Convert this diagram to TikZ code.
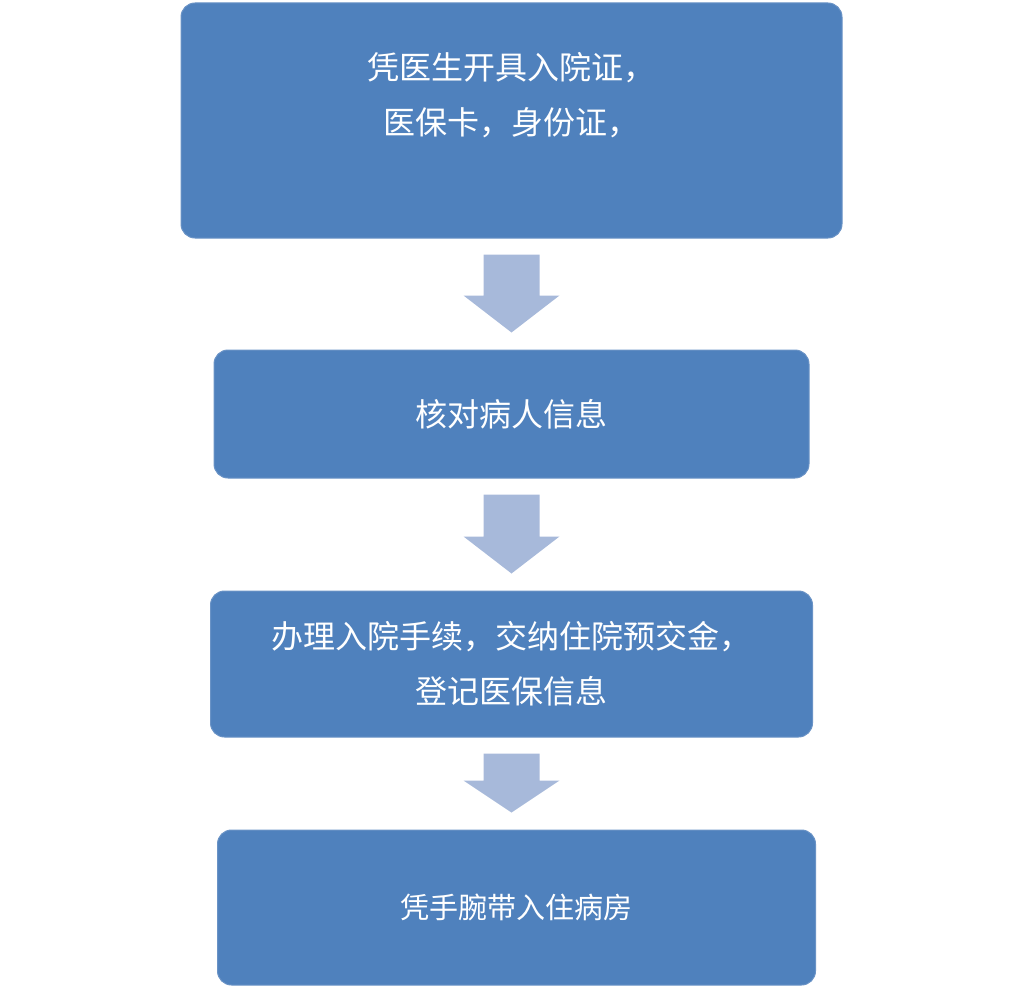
\documentclass[tikz,border=0pt]{standalone}
\usepackage{fontspec}
\newfontfamily\cjk{Noto Sans CJK SC}
\usetikzlibrary{positioning,calc}
\definecolor{boxblue}{HTML}{4F81BD}
\definecolor{boxedge}{HTML}{6A93C6}
\definecolor{arrowblue}{HTML}{A7B9DA}
\tikzset{
        % Process boxes
        stepbox/.style={rectangle, rounded corners=14pt, fill=boxblue, draw=boxedge, line width=1pt,
                text=white, align=center, font=\cjk\fontsize{32}{55}\selectfont, inner sep=0pt},
        % Block arrows between boxes
        arrowfill/.style={fill=arrowblue}
}
\begin{document}
\begin{tikzpicture}[x=1pt, y=-1pt]
    \useasboundingbox (0,0) rectangle (1024,1006);
    \node[stepbox, minimum width=661pt, minimum height=235pt] (apply) at (511.5,120.5)
        {凭医生开具入院证，\\医保卡，身份证，\\\mbox{}};
    \node[stepbox, minimum width=595pt, minimum height=128pt, below=111pt of apply] (check) {核对病人信息};
    \node[stepbox, minimum width=602pt, minimum height=146pt, below=112pt of check] (admit)
        {办理入院手续，交纳住院预交金，\\登记医保信息};
    \node[stepbox, minimum width=598pt, minimum height=155pt, below=92pt of admit, xshift=5pt,
        font=\cjk\fontsize{29}{50}\selectfont] (ward) {凭手腕带入住病房};
    % arrows
    \foreach \a/\b/\h in {apply/check/37, check/admit/37, admit/ward/32}
        \fill[arrowfill] ($(\a.south)+(-28,16)$) -- ($(\a.south)+(28,16)$)
            -- ($(\a.south |- \b.north)+(28,-17-\h)$) -- ($(\a.south |- \b.north)+(48,-17-\h)$)
            -- ($(\a.south |- \b.north)+(0,-17)$)
            -- ($(\a.south |- \b.north)+(-48,-17-\h)$) -- ($(\a.south |- \b.north)+(-28,-17-\h)$) -- cycle;
\end{tikzpicture}
\end{document}
